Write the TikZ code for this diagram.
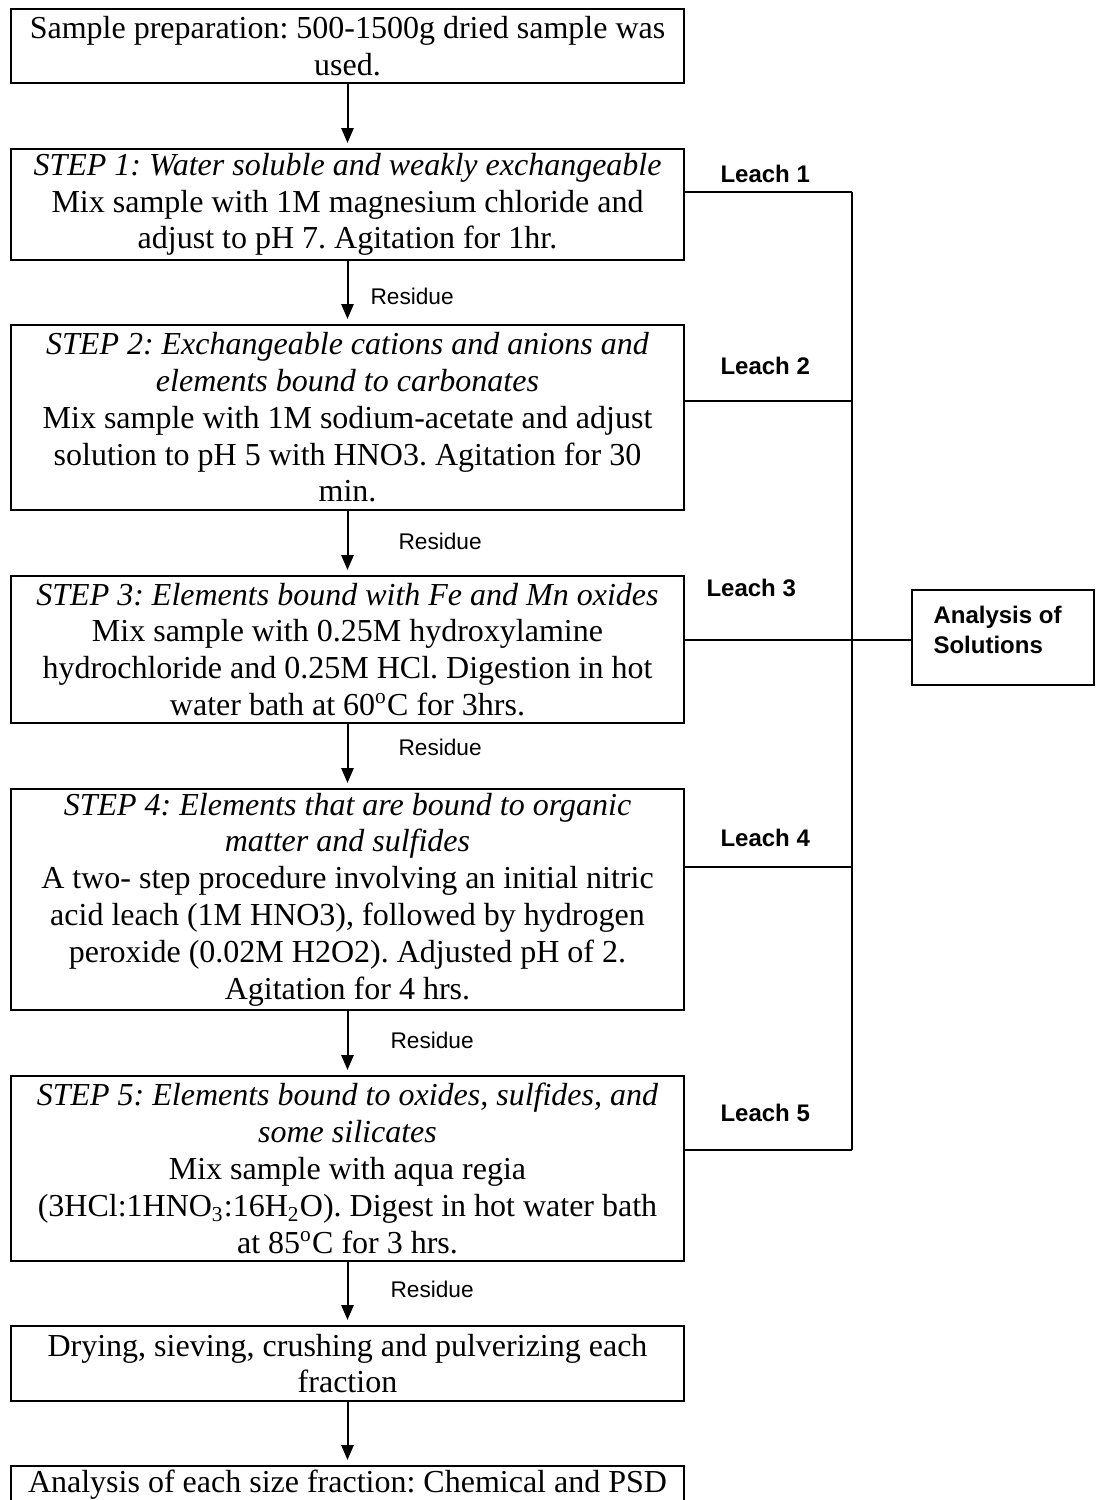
\documentclass[tikz,border=0pt]{standalone}
\usepackage{fontspec}
\setmainfont{Liberation Serif}
\newfontfamily\arialfont{Liberation Sans}
\usetikzlibrary{arrows.meta}
\frenchspacing
\begin{document}
\begin{tikzpicture}[x=0.375pt,y=-0.375pt,
  box/.style={draw, line width=0.75pt, rectangle, minimum width=252.4pt, inner sep=0pt, align=center, font=\fontsize{12}{13.8}\selectfont},
  flow/.style={-{Triangle[length=5.6pt,width=4.6pt]}, line width=0.75pt, shorten >=1.9pt},
  lnk/.style={line width=0.75pt},
  leach/.style={anchor=west, font=\arialfont\bfseries\fontsize{9}{10.8}\selectfont, inner sep=0pt},
  res/.style={anchor=west, font=\arialfont\fontsize{8.5}{10}\selectfont, inner sep=0pt}]
\useasboundingbox (0,0) rectangle (1096,1500);

\node[box, minimum height=27.75pt] (b0) at (347.5,46) {Sample preparation: 500-1500g dried sample was\\used.};
\node[box, minimum height=41.625pt] (b1) at (347.5,204.5) {\textit{STEP 1: Water soluble and weakly exchangeable}\\Mix sample with 1M magnesium chloride and\\adjust to pH 7. Agitation for 1hr.};
\node[box, minimum height=69.375pt] (b2) at (347.5,417.5) {\textit{STEP 2: Exchangeable cations and anions and}\\\textit{elements bound to carbonates}\\Mix sample with 1M sodium-acetate and adjust\\solution to pH 5 with HNO3. Agitation for 30\\min.};
\node[box, minimum height=55.125pt] (b3) at (347.5,649.5) {\textit{STEP 3: Elements bound with Fe and Mn oxides}\\Mix sample with 0.25M hydroxylamine\\hydrochloride and 0.25M HCl. Digestion in hot\\water bath at 60\textsuperscript{o}C for 3hrs.};
\node[box, minimum height=82.875pt] (b4) at (347.5,899.5) {\textit{STEP 4: Elements that are bound to organic}\\\textit{matter and sulfides}\\A two- step procedure involving an initial nitric\\acid leach (1M HNO3), followed by hydrogen\\peroxide (0.02M H2O2). Adjusted pH of 2.\\Agitation for 4 hrs.};
\node[box, minimum height=69.375pt] (b5) at (347.5,1168.5) {\textit{STEP 5: Elements bound to oxides, sulfides, and}\\\textit{some silicates}\\Mix sample with aqua regia\\(3HCl:1HNO\textsubscript{3}:16H\textsubscript{2}O). Digest in hot water bath\\at 85\textsuperscript{o}C for 3 hrs.};
\node[box, minimum height=28.125pt] (b6) at (347.5,1363.5) {Drying, sieving, crushing and pulverizing each\\fraction};
\node[box, minimum height=13.875pt] (b7) at (347.5,1484.5) {Analysis of each size fraction: Chemical and PSD};

\draw[flow] (b0) -- (b1);
\draw[flow] (b1) -- (b2);
\draw[flow] (b2) -- (b3);
\draw[flow] (b3) -- (b4);
\draw[flow] (b4) -- (b5);
\draw[flow] (b5) -- (b6);
\draw[flow] (b6) -- (b7);

\node[res] (r1) at (370,296) {Residue};
\node[res] (r2) at (398,541) {Residue};
\node[res] (r3) at (398,747) {Residue};
\node[res] (r4) at (390,1040) {Residue};
\node[res] (r5) at (390,1289) {Residue};

\coordinate (v1) at (852,192);
\coordinate (v2) at (852,401);
\coordinate (v3) at (852,640);
\coordinate (v4) at (852,867);
\coordinate (v5) at (852,1150);

\node[draw, lnk, minimum width=68.25pt, minimum height=35.6pt, inner sep=0pt] (an) at (1003,637.5) {};
\node[anchor=west, font=\arialfont\bfseries\fontsize{9}{11.25}\selectfont, align=left, inner sep=0pt] (antext) at (933,630) {Analysis of\\Solutions};

\draw[lnk] (b1.east |- v1) -- (v1);
\draw[lnk] (b2.east |- v2) -- (v2);
\draw[lnk] (b3.east |- v3) -- (an.west |- v3);
\draw[lnk] (b4.east |- v4) -- (v4);
\draw[lnk] (b5.east |- v5) -- (v5);
\draw[lnk] (v1) -- (v5);

\node[leach] (l1) at (720,174) {Leach 1};
\node[leach] (l2) at (720,366) {Leach 2};
\node[leach] (l3) at (706,588) {Leach 3};
\node[leach] (l4) at (720,838) {Leach 4};
\node[leach] (l5) at (720,1113) {Leach 5};
\end{tikzpicture}
\end{document}
